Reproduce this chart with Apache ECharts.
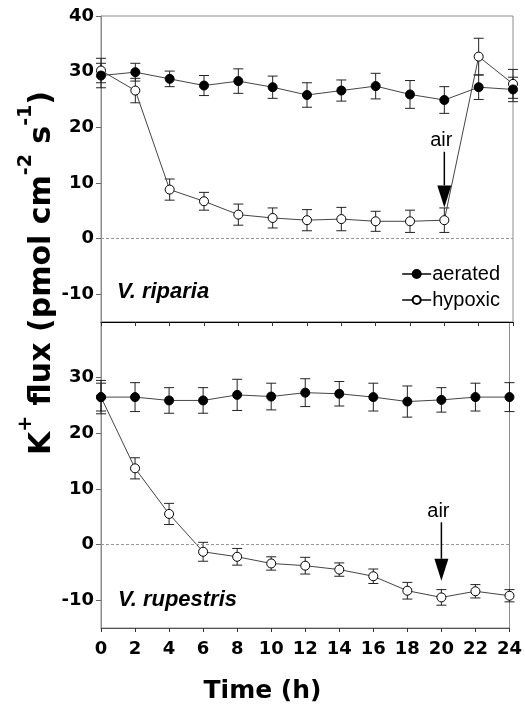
<!DOCTYPE html>
<html>
<head>
<meta charset="utf-8">
<script src="https://cdn.jsdelivr.net/npm/echarts@6/dist/echarts.min.js"></script>
<style>
  html, body { margin: 0; padding: 0; background: #fff; }
  #chart { width: 525px; height: 709px; }
</style>
</head>
<body>
<div id="chart"></div>
<script>
// time points (h)
var hours = [0, 2, 4, 6, 8, 10, 12, 14, 16, 18, 20, 22, 24];

// V. riparia
var ripAer = [29.3, 29.9, 28.7, 27.5, 28.3, 27.2, 25.8, 26.6, 27.4, 25.9, 24.9, 27.2, 26.8];
var ripAerErr = [2.2, 1.6, 1.4, 1.8, 2.2, 2.0, 2.2, 1.9, 2.3, 2.5, 2.4, 2.2, 2.2];
var ripHyp = [30.2, 26.6, 8.8, 6.7, 4.3, 3.7, 3.3, 3.5, 3.1, 3.1, 3.3, 32.7, 27.8];
var ripHypErr = [2.2, 2.2, 1.9, 1.6, 1.9, 1.8, 1.9, 2.1, 1.8, 2.0, 2.2, 3.3, 2.6];

// V. rupestris
var rupAer = [26.5, 26.5, 25.9, 25.9, 26.9, 26.6, 27.3, 27.1, 26.5, 25.7, 26.0, 26.5, 26.5];
var rupAerErr = [2.5, 2.6, 2.3, 2.3, 2.8, 2.4, 2.5, 2.2, 2.5, 2.8, 2.2, 2.5, 2.6];
var rupHyp = [26.5, 13.7, 5.5, -1.3, -2.2, -3.4, -3.8, -4.5, -5.7, -8.3, -9.5, -8.4, -9.2];
var rupHypErr = [3.0, 1.9, 1.9, 1.7, 1.5, 1.2, 1.5, 1.2, 1.3, 1.5, 1.4, 1.2, 1.1];

// "air" arrows: [hour, tail value, tip value]
var ripAir = [[20, 15.6, 5.6]];
var rupAir = [[20, 4.0, -6.5]];

var chart = echarts.init(document.getElementById('chart'));

function pairs(ys) {
    return hours.map(function (h, i) { return [h, ys[i]]; });
}
function errData(ys, es) {
    return hours.map(function (h, i) { return [h, ys[i] - es[i], ys[i] + es[i]]; });
}

// vertical error bar with caps
function renderErr(params, api) {
    var x = api.value(0);
    var lo = api.coord([x, api.value(1)]);
    var hi = api.coord([x, api.value(2)]);
    var w = 5;
    var st = { stroke: '#222', lineWidth: 1 };
    return {
        type: 'group',
        children: [
            { type: 'line', shape: { x1: hi[0], y1: hi[1], x2: lo[0], y2: lo[1] }, style: st },
            { type: 'line', shape: { x1: hi[0] - w, y1: hi[1], x2: hi[0] + w, y2: hi[1] }, style: st },
            { type: 'line', shape: { x1: lo[0] - w, y1: lo[1], x2: lo[0] + w, y2: lo[1] }, style: st }
        ]
    };
}

// arrow pointing down with "air" label
function renderAir(params, api) {
    var x = api.value(0);
    var tail = api.coord([x, api.value(1)]);
    var tip = api.coord([x, api.value(2)]);
    var hw = 7, hh = 22;
    return {
        type: 'group',
        children: [
            { type: 'line', shape: { x1: tail[0], y1: tail[1], x2: tip[0], y2: tip[1] - hh },
              style: { stroke: '#000', lineWidth: 1.5 } },
            { type: 'polygon', shape: { points: [[tip[0] - hw, tip[1] - hh], [tip[0] + hw, tip[1] - hh], [tip[0], tip[1]]] },
              style: { fill: '#000' } },
            { type: 'text', x: tail[0] - 3, y: tail[1] - 1,
              style: { text: 'air', fill: '#000', font: '20px "Liberation Sans", Arial', align: 'center', verticalAlign: 'bottom' } }
        ]
    };
}

function lineSeries(name, data, gi, open) {
    return {
        name: name,
        type: 'line',
        xAxisIndex: gi,
        yAxisIndex: gi,
        data: data,
        z: 4,
        symbol: 'circle',
        symbolSize: 9,
        showAllSymbol: true,
        lineStyle: { color: '#444', width: 1 },
        itemStyle: open ? { color: '#fff', borderColor: '#000', borderWidth: 1 } : { color: '#000', borderColor: '#000', borderWidth: 1 },
        emphasis: { disabled: true }
    };
}

function errSeries(data, gi) {
    return {
        type: 'custom',
        xAxisIndex: gi,
        yAxisIndex: gi,
        data: data,
        z: 3,
        clip: false,
        silent: true,
        renderItem: renderErr
    };
}

function zeroLine(gi) {
    return {
        type: 'line',
        xAxisIndex: gi,
        yAxisIndex: gi,
        data: [],
        silent: true,
        markLine: {
            silent: true,
            symbol: 'none',
            label: { show: false },
            lineStyle: { color: '#999', width: 1, type: [3, 2] },
            data: [{ yAxis: 0 }]
        }
    };
}

function airSeries(data, gi) {
    return {
        type: 'custom',
        xAxisIndex: gi,
        yAxisIndex: gi,
        data: data,
        z: 5,
        clip: false,
        silent: true,
        renderItem: renderAir
    };
}

var labelFont = { fontFamily: 'DejaVu Sans', fontWeight: 'bold', fontSize: 18, color: '#000' };

function xAxisOpt(gi, showLabel) {
    return {
        gridIndex: gi,
        type: 'value',
        min: 0,
        max: 24,
        interval: 2,
        z: 5,
        axisLine: { show: true, onZero: false, lineStyle: { color: gi === 0 ? '#000' : '#555', width: 1 } },
        axisTick: { show: true, length: 4, lineStyle: { color: '#333' } },
        axisLabel: Object.assign({ show: showLabel, margin: 12 }, labelFont),
        splitLine: { show: false }
    };
}

function yAxisOpt(gi, showMax) {
    return {
        gridIndex: gi,
        type: 'value',
        min: -15,
        max: 40,
        splitNumber: 5,
        axisLine: { show: true, lineStyle: { color: '#8c8c8c', width: 1 } },
        axisTick: { show: true, length: 5, lineStyle: { color: '#666' } },
        axisLabel: Object.assign({ margin: 7, showMinLabel: false, showMaxLabel: showMax }, labelFont),
        splitLine: { show: false }
    };
}

var option = {
    animation: false,
    backgroundColor: '#fff',
    grid: [
        { left: 101, top: 16, width: 412, height: 306, show: true, borderColor: '#8c8c8c', borderWidth: 1, backgroundColor: 'transparent' },
        { left: 101, top: 322, width: 412, height: 306, show: true, borderColor: '#8c8c8c', borderWidth: 1, backgroundColor: 'transparent' }
    ],
    xAxis: [xAxisOpt(0, false), xAxisOpt(1, true)],
    yAxis: [yAxisOpt(0, true), yAxisOpt(1, false)],
    legend: {
        data: ['aerated', 'hypoxic'],
        orient: 'vertical',
        right: 20,
        top: 259,
        itemWidth: 29,
        itemHeight: 10,
        itemGap: 6,
        selectedMode: false,
        textStyle: { fontFamily: 'Liberation Sans', fontSize: 20, color: '#000', padding: [0, 0, 0, -4] }
    },
    graphic: [
        {
            type: 'text',
            left: 117,
            top: 281,
            style: { text: 'V. riparia', fill: '#000', font: 'italic bold 22px "Liberation Sans", Arial' }
        },
        {
            type: 'text',
            left: 118,
            top: 589,
            style: { text: 'V. rupestris', fill: '#000', font: 'italic bold 22px "Liberation Sans", Arial' }
        },
        {
            type: 'text',
            x: 37,
            y: 273,
            rotation: Math.PI / 2,
            style: {
                text: '{m|K}{s|+}{m| flux (pmol cm}{s|-2}{m| s}{s|-1}{m|)}',
                align: 'center',
                verticalAlign: 'middle',
                rich: {
                    m: { fontFamily: 'DejaVu Sans', fontWeight: 'bold', fontSize: 30, lineHeight: 40, fill: '#000', verticalAlign: 'bottom' },
                    s: { fontFamily: 'DejaVu Sans', fontWeight: 'bold', fontSize: 19, lineHeight: 40, fill: '#000', verticalAlign: 'top' }
                }
            }
        },
        {
            type: 'text',
            left: 'center',
            top: 679,
            x: 307,
            style: { text: 'Time (h)', fill: '#000', font: 'bold 25px "DejaVu Sans"', align: 'center' }
        }
    ],
    series: [
        zeroLine(0),
        errSeries(errData(ripHyp, ripHypErr), 0),
        errSeries(errData(ripAer, ripAerErr), 0),
        lineSeries('hypoxic', pairs(ripHyp), 0, true),
        lineSeries('aerated', pairs(ripAer), 0, false),
        airSeries(ripAir, 0),
        zeroLine(1),
        errSeries(errData(rupHyp, rupHypErr), 1),
        errSeries(errData(rupAer, rupAerErr), 1),
        lineSeries('hypoxic', pairs(rupHyp), 1, true),
        lineSeries('aerated', pairs(rupAer), 1, false),
        airSeries(rupAir, 1)
    ]
};

chart.setOption(option);
</script>
</body>
</html>
